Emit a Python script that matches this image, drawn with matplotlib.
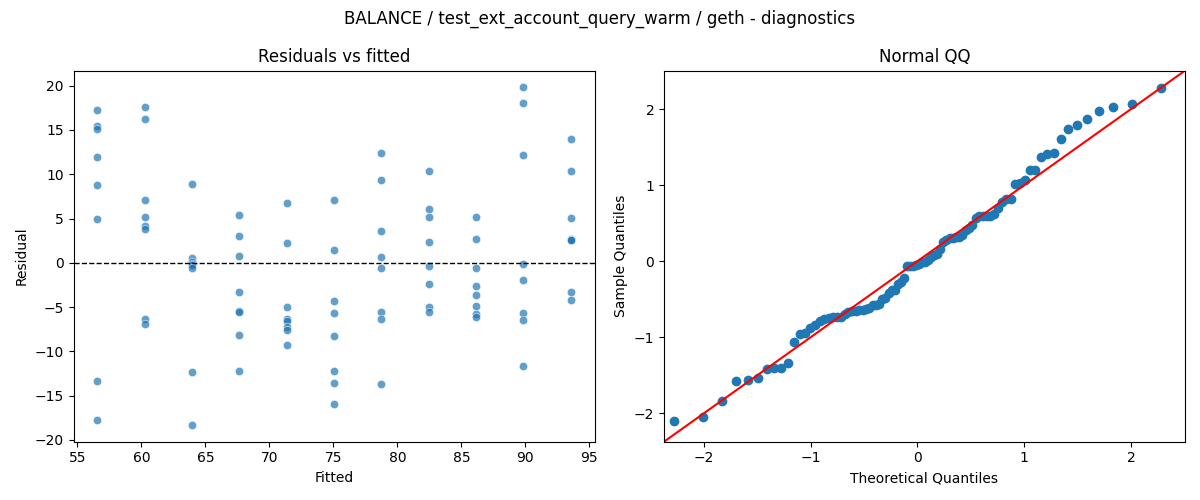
import numpy as np
import matplotlib
matplotlib.use("Agg")
import matplotlib.pyplot as plt
import seaborn as sns
from statistics import NormalDist

# fitted value of each group (11 groups, 8 runs each)
fitted_levels = [56.55, 60.25, 63.95, 67.65, 71.35, 75.05, 78.75, 82.45, 86.15, 89.85, 93.55]

# residuals, one list per fitted level
res_by_level = [
    [17.2, 15.5, 15.1, 11.9, 8.8, 4.9, -13.4, -17.8],
    [17.6, 16.2, 7.1, 5.2, 4.1, 3.8, -6.4, -6.9],
    [8.9, 0.5, 0.1, -0.1, -0.3, -0.6, -12.3, -18.3],
    [5.4, 3.0, 0.8, -3.3, -5.4, -5.6, -8.2, -12.2],
    [6.8, 2.2, -5.0, -6.4, -6.6, -7.3, -7.6, -9.3],
    [7.1, 1.4, -4.3, -5.7, -8.3, -12.2, -13.6, -16.0],
    [12.4, 9.3, 3.6, 0.7, -0.6, -5.6, -6.4, -13.7],
    [10.4, 6.1, 5.2, 2.4, -0.4, -2.4, -5.0, -5.5],
    [5.2, 2.7, -0.6, -2.6, -3.6, -4.9, -5.8, -6.1],
    [19.8, 18.0, 12.2, -0.1, -1.9, -5.7, -6.5, -11.7],
    [14.0, 10.4, 5.1, 2.7, 2.6, 2.6, -3.3, -4.2],
]

title = "BALANCE / test_ext_account_query_warm / geth - diagnostics"

fitted = np.repeat(fitted_levels, [len(r) for r in res_by_level])
resid = np.concatenate([np.array(r) for r in res_by_level])

fig, axes = plt.subplots(1, 2, figsize=(12, 5), dpi=100)

# residuals vs fitted
ax = axes[0]
sns.scatterplot(x=fitted, y=resid, alpha=0.7, ax=ax)
ax.axhline(0, color="black", linestyle="--", linewidth=1)
ax.set_title("Residuals vs fitted")
ax.set_xlabel("Fitted")
ax.set_ylabel("Residual")

# normal QQ of the standardised residuals
ax = axes[1]
n = len(resid)
sample_q = np.sort((resid - resid.mean()) / resid.std())
nd = NormalDist()
theo_q = np.array([nd.inv_cdf(i / (n + 1)) for i in range(1, n + 1)])
ax.plot(theo_q, sample_q, "o", color="C0")
lo, hi = -2.375, 2.506
ax.plot([lo, hi], [lo, hi], color="red")
ax.set_xlim(lo, hi)
ax.set_ylim(lo, hi)
ax.set_title("Normal QQ")
ax.set_xlabel("Theoretical Quantiles")
ax.set_ylabel("Sample Quantiles")

fig.suptitle(title)
fig.tight_layout()
fig.savefig("out.png")
